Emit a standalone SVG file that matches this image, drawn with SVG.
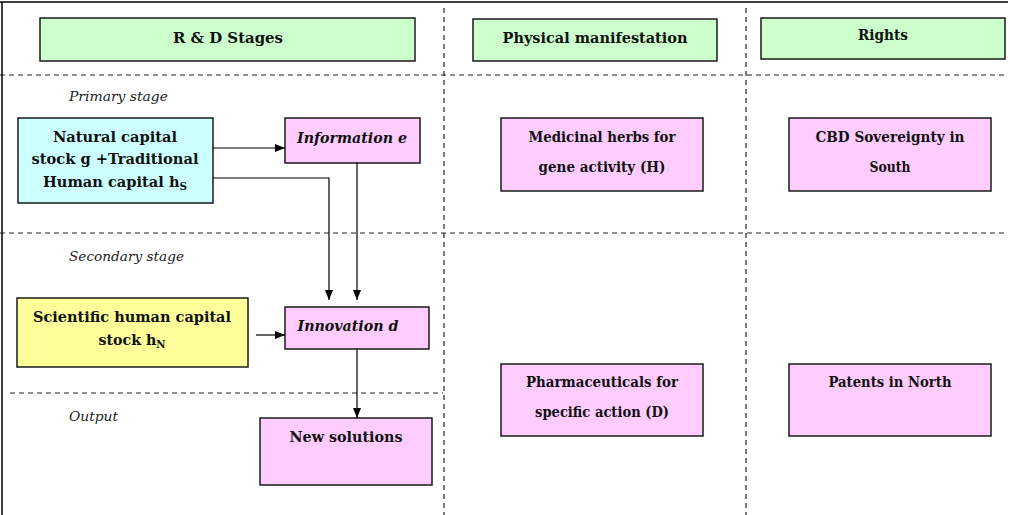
<svg xmlns="http://www.w3.org/2000/svg" width="1010" height="515" viewBox="0 0 1010 515">
<style>
.box{stroke:#1a1a1a;stroke-width:1.5}
.g{fill:#ccffcc}.c{fill:#ccffff}.y{fill:#ffff99}.p{fill:#ffccff}
.t{font-family:'DejaVu Serif','Liberation Serif',serif;font-weight:bold;fill:#111;text-anchor:middle}
.h{font-size:15.5px}.s{font-size:14px}
.lab{font-family:'DejaVu Serif','Liberation Serif',serif;font-style:italic;font-size:13.5px;fill:#222}
.dash{stroke:#222;stroke-width:1.2;stroke-dasharray:5,4;fill:none}
.conn{stroke:#000;stroke-width:1.2;fill:none}
</style>
<defs>
<marker id="ah" markerWidth="10" markerHeight="8" refX="10" refY="4" orient="auto" markerUnits="userSpaceOnUse">
<path d="M0,0 L10,4 L0,8 z" fill="#000"/>
</marker>
</defs>
<rect width="1010" height="515" fill="#fff"/>
<g id="frame">
<line x1="0" y1="2" x2="1008" y2="2" stroke="#000" stroke-width="1.5"/>
<line x1="2" y1="2" x2="2" y2="515" stroke="#000" stroke-width="1.5"/>
<line class="dash" x1="0" y1="75" x2="1004" y2="75"/>
<line class="dash" x1="0" y1="233" x2="1004" y2="233"/>
<line class="dash" x1="10" y1="393" x2="443" y2="393"/>
<line class="dash" x1="444" y1="8" x2="444" y2="515"/>
<line class="dash" x1="746" y1="8" x2="746" y2="515"/>
</g>
<g id="labels">
<text class="lab" x="69" y="101" textLength="99" lengthAdjust="spacingAndGlyphs">Primary stage</text>
<text class="lab" x="69" y="261" textLength="115" lengthAdjust="spacingAndGlyphs">Secondary stage</text>
<text class="lab" x="69" y="421" textLength="49" lengthAdjust="spacingAndGlyphs">Output</text>
</g>
<g id="rd-stages"><rect class="box g" x="40" y="18" width="375" height="43"/><text class="t h" x="228" y="43" textLength="110" lengthAdjust="spacingAndGlyphs">R &amp; D Stages</text></g>
<g id="physical"><rect class="box g" x="473" y="19" width="244" height="42"/><text class="t h" x="595" y="43" textLength="185" lengthAdjust="spacingAndGlyphs">Physical manifestation</text></g>
<g id="rights"><rect class="box g" x="761" y="18" width="244" height="41"/><text class="t h" x="883" y="40" textLength="50" lengthAdjust="spacingAndGlyphs">Rights</text></g>
<g id="natural"><rect class="box c" x="18" y="118" width="195" height="85"/>
<text class="t h" x="115" y="142" textLength="124" lengthAdjust="spacingAndGlyphs">Natural capital</text>
<text class="t h" x="115" y="164" textLength="167" lengthAdjust="spacingAndGlyphs">stock g +Traditional</text>
<text class="t h" x="115" y="187" textLength="144" lengthAdjust="spacingAndGlyphs">Human capital h<tspan font-size="11" dy="3">S</tspan></text></g>
<g id="information"><rect class="box p" x="285" y="118" width="135" height="45"/><text class="t h" x="352" y="143" font-style="italic" textLength="110" lengthAdjust="spacingAndGlyphs">Information e</text></g>
<g id="scientific"><rect class="box y" x="17" y="298" width="231" height="69"/>
<text class="t h" x="132" y="322" textLength="198" lengthAdjust="spacingAndGlyphs">Scientific human capital</text>
<text class="t h" x="132" y="345" textLength="67" lengthAdjust="spacingAndGlyphs">stock h<tspan font-size="11" dy="3">N</tspan></text></g>
<g id="innovation"><rect class="box p" x="285" y="307" width="144" height="42"/><text class="t h" x="348" y="331" font-style="italic" textLength="101" lengthAdjust="spacingAndGlyphs">Innovation d</text></g>
<g id="newsolutions"><rect class="box p" x="260" y="418" width="172" height="67"/><text class="t h" x="346" y="442" textLength="113" lengthAdjust="spacingAndGlyphs">New solutions</text></g>
<g id="medicinal"><rect class="box p" x="501" y="118" width="202" height="73"/>
<text class="t s" x="602" y="142" textLength="147" lengthAdjust="spacingAndGlyphs">Medicinal herbs for</text>
<text class="t s" x="602" y="172" textLength="127" lengthAdjust="spacingAndGlyphs">gene activity (H)</text></g>
<g id="cbd"><rect class="box p" x="789" y="118" width="202" height="73"/>
<text class="t s" x="890" y="142" textLength="149" lengthAdjust="spacingAndGlyphs">CBD Sovereignty in</text>
<text class="t s" x="890" y="172" textLength="41" lengthAdjust="spacingAndGlyphs">South</text></g>
<g id="pharma"><rect class="box p" x="501" y="364" width="202" height="72"/>
<text class="t s" x="602" y="387" textLength="152" lengthAdjust="spacingAndGlyphs">Pharmaceuticals for</text>
<text class="t s" x="602" y="417" textLength="134" lengthAdjust="spacingAndGlyphs">specific action (D)</text></g>
<g id="patents"><rect class="box p" x="789" y="364" width="202" height="72"/>
<text class="t s" x="890" y="387" textLength="123" lengthAdjust="spacingAndGlyphs">Patents in North</text></g>
<g id="connectors">
<line class="conn" x1="213" y1="148" x2="285" y2="148" marker-end="url(#ah)"/>
<polyline class="conn" points="213,178 329,178 329,300" marker-end="url(#ah)"/>
<line class="conn" x1="357" y1="163" x2="357" y2="300" marker-end="url(#ah)"/>
<line class="conn" x1="256" y1="335" x2="285" y2="335" marker-end="url(#ah)"/>
<line class="conn" x1="357" y1="349" x2="357" y2="418" marker-end="url(#ah)"/>
</g>
</svg>
